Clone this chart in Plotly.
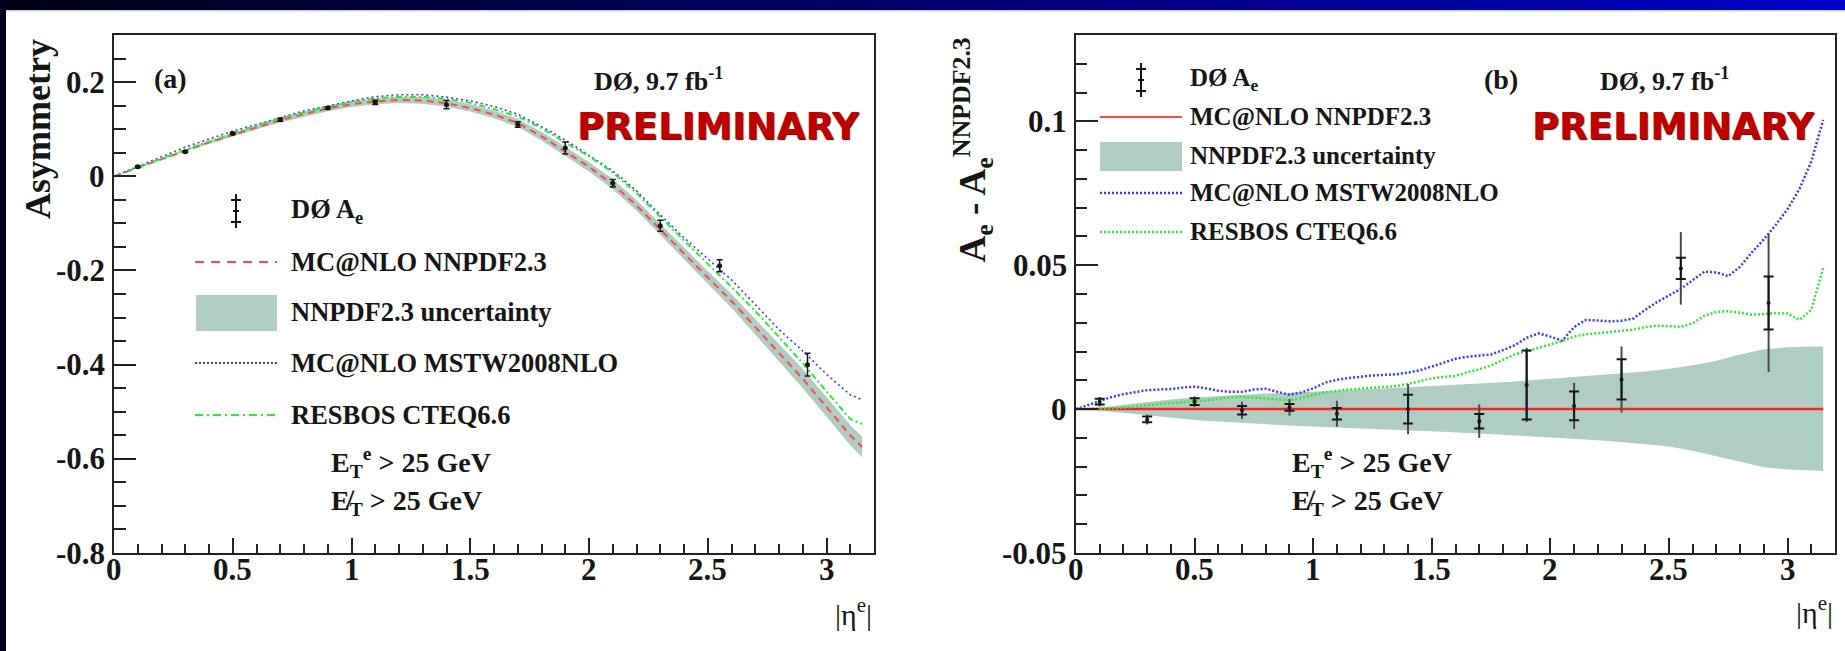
import plotly.graph_objects as go

W, H = 1845, 651

# ---------------- data ----------------
# coarse |eta| grid for the smooth predictions in panel (a) and the PDF band
ETA_GRID = [0.0, 0.1, 0.2, 0.3, 0.4, 0.5, 0.6, 0.7, 0.8, 0.9, 1.0, 1.1, 1.2, 1.3,
            1.4, 1.5, 1.6, 1.7, 1.8, 1.9, 2.0, 2.1, 2.2, 2.3, 2.4, 2.5, 2.6, 2.7,
            2.8, 2.9, 3.0, 3.1, 3.15]
NNPDF_ASYM = [0.0, 0.018, 0.037, 0.055, 0.072, 0.088, 0.104, 0.119, 0.132, 0.144,
              0.153, 0.159, 0.162, 0.161, 0.155, 0.145, 0.131, 0.113, 0.085, 0.052,
              0.020, -0.017, -0.062, -0.113, -0.165, -0.215, -0.265, -0.320, -0.375,
              -0.430, -0.490, -0.550, -0.575]
NNPDF_UNC_UP = [0.0, 0.0005, 0.0015, 0.0025, 0.0033, 0.0040, 0.0045, 0.0050, 0.0054,
                0.0057, 0.0060, 0.0064, 0.0068, 0.0072, 0.0076, 0.0079, 0.0083, 0.0088,
                0.0093, 0.0099, 0.0105, 0.0111, 0.0117, 0.0124, 0.0131, 0.0140, 0.0152,
                0.0168, 0.0190, 0.0208, 0.0215, 0.0218, 0.0218]
NNPDF_UNC_DN = [0.0, -0.0005, -0.0012, -0.0020, -0.0030, -0.0038, -0.0043, -0.0048,
                -0.0053, -0.0057, -0.0060, -0.0063, -0.0066, -0.0070, -0.0074, -0.0077,
                -0.0080, -0.0085, -0.0089, -0.0093, -0.0097, -0.0103, -0.0108, -0.0114,
                -0.0121, -0.0130, -0.0145, -0.0163, -0.0183, -0.0202, -0.0210, -0.0213,
                -0.0215]
MSTW_ASYM = [0.0, 0.021, 0.042, 0.062, 0.079, 0.096, 0.110, 0.125, 0.139, 0.149, 0.160,
             0.169, 0.173, 0.173, 0.168, 0.160, 0.1485, 0.1316, 0.1055, 0.077, 0.045,
             0.0115, -0.031, -0.082, -0.1305, -0.1755, -0.220, -0.2725, -0.3255, -0.371,
             -0.4205, -0.464, -0.4745]
RESBOS_ASYM = [0.0, 0.018, 0.0375, 0.056, 0.074, 0.091, 0.108, 0.123, 0.136, 0.147,
               0.158, 0.165, 0.169, 0.169, 0.164, 0.156, 0.1425, 0.127, 0.102, 0.072,
               0.0425, 0.008, -0.0356, -0.086, -0.1365, -0.186, -0.235, -0.286, -0.3415,
               -0.397, -0.457, -0.5155, -0.526]

# fine |eta| grid for the differences in panel (b)
ETA_FINE = [0.0, 0.05, 0.1, 0.15, 0.2, 0.25, 0.3, 0.35, 0.4, 0.45, 0.5, 0.55, 0.6, 0.65,
            0.7, 0.75, 0.8, 0.85, 0.9, 0.95, 1.0, 1.05, 1.1, 1.15, 1.2, 1.25, 1.3, 1.35,
            1.4, 1.45, 1.5, 1.55, 1.6, 1.65, 1.7, 1.75, 1.8, 1.85, 1.9, 1.95, 2.0, 2.05,
            2.1, 2.15, 2.2, 2.25, 2.3, 2.35, 2.4, 2.45, 2.5, 2.55, 2.6, 2.65, 2.7, 2.75,
            2.8, 2.85, 2.9, 2.95, 3.0, 3.05, 3.1, 3.15]
MSTW_DIFF = [0.0, 0.0014, 0.0030, 0.0042, 0.0052, 0.0060, 0.0066, 0.0068, 0.0070, 0.0075,
             0.0078, 0.0072, 0.0064, 0.0060, 0.0060, 0.0068, 0.0071, 0.0060, 0.0050, 0.0058,
             0.0072, 0.0092, 0.0102, 0.0108, 0.0113, 0.0117, 0.0119, 0.0121, 0.0127, 0.0135,
             0.0148, 0.0162, 0.0175, 0.0182, 0.0186, 0.0190, 0.0205, 0.0222, 0.0248, 0.0263,
             0.0252, 0.0238, 0.0285, 0.0310, 0.0308, 0.0305, 0.0307, 0.0315, 0.0345, 0.0372,
             0.0395, 0.0418, 0.0448, 0.0478, 0.0475, 0.0462, 0.0495, 0.0545, 0.0590, 0.0640,
             0.0695, 0.0765, 0.0860, 0.1005]
RESBOS_DIFF = [0.0, 0.0, 0.0, 0.0002, 0.0005, 0.0010, 0.0014, 0.0018, 0.0021, 0.0024,
               0.0026, 0.0030, 0.0036, 0.0041, 0.0043, 0.0040, 0.0036, 0.0033, 0.0031, 0.0038,
               0.0050, 0.0058, 0.0064, 0.0068, 0.0071, 0.0074, 0.0077, 0.0080, 0.0087, 0.0097,
               0.0107, 0.0112, 0.0115, 0.0128, 0.0138, 0.0152, 0.0172, 0.0190, 0.0201, 0.0212,
               0.0225, 0.0237, 0.0252, 0.0260, 0.0264, 0.0268, 0.0270, 0.0276, 0.0285, 0.0290,
               0.0288, 0.0286, 0.0298, 0.0325, 0.0338, 0.0340, 0.0335, 0.0328, 0.0330, 0.0334,
               0.0332, 0.0310, 0.0345, 0.0490]

# D0 measurement
DATA_ETA = [0.1, 0.3, 0.5, 0.7, 0.9, 1.1, 1.4, 1.7, 1.9, 2.1, 2.3, 2.55, 2.92]
DATA_ASYM = [0.020, 0.052, 0.091, 0.120, 0.145, 0.157, 0.152, 0.110, 0.060, -0.015,
             -0.105, -0.190, -0.400]
DATA_DIFF = [0.0026, -0.0036, 0.0026, -0.0004, 0.0006, -0.0016, 0.0, -0.0042, 0.0084,
             0.0011, 0.0103, 0.0489, 0.0369]
DATA_STAT = [0.0010, 0.0010, 0.0012, 0.0015, 0.0012, 0.0020, 0.0050, 0.0025, 0.0120,
             0.0050, 0.0070, 0.0037, 0.0092]
DATA_TOT = [0.0017, 0.0017, 0.0018, 0.0030, 0.0029, 0.0045, 0.0087, 0.0058, 0.0129,
            0.0080, 0.0115, 0.0126, 0.0240]

X_TICKS = [0, 0.5, 1, 1.5, 2, 2.5, 3]
X_TICKLABELS = ["0", "0.5", "1", "1.5", "2", "2.5", "3"]
YA_TICKS = [-0.8, -0.6, -0.4, -0.2, 0, 0.2]
YA_TICKLABELS = ["-0.8", "-0.6", "-0.4", "-0.2", "0", "0.2"]
YB_TICKS = [-0.05, 0, 0.05, 0.1]
YB_TICKLABELS = ["-0.05", "0", "0.05", "0.1"]

LEGEND_A = ["DØ A<sub>e</sub>", "MC@NLO NNPDF2.3", "NNPDF2.3 uncertainty",
            "MC@NLO MSTW2008NLO", "RESBOS CTEQ6.6"]
LEGEND_B = ["DØ A<sub>e</sub>", "MC@NLO NNPDF2.3", "NNPDF2.3 uncertainty",
            "MC@NLO MSTW2008NLO", "RESBOS CTEQ6.6"]
CUTS = ["E<sub>T</sub><sup>e</sup> > 25 GeV", "E\u0338<sub>T</sub> > 25 GeV"]

# ---------------- style ----------------
BAND = "#b0cdc4"
RED = "#ff4a4a"
BLUE = "#3a3aff"
GREEN = "#30e830"
INK = "#161616"
SERIF = "Liberation Serif"
SANS = "DejaVu Sans"
TICK_SIZE = 31


def px(x):
    return x / W


def py(y):
    return 1 - y / H


fig = go.Figure()

# ----- panel (a) -----
band_hi = [a + u for a, u in zip(NNPDF_ASYM, NNPDF_UNC_UP)]
band_lo = [a + d for a, d in zip(NNPDF_ASYM, NNPDF_UNC_DN)]
fig.add_trace(go.Scatter(x=ETA_GRID + ETA_GRID[::-1], y=band_hi + band_lo[::-1],
                         fill="toself", fillcolor=BAND, line=dict(width=0),
                         mode="lines", hoverinfo="skip", xaxis="x", yaxis="y"))
fig.add_trace(go.Scatter(x=ETA_GRID, y=NNPDF_ASYM, mode="lines",
                         line=dict(color=RED, width=2, dash="7px,5px"),
                         xaxis="x", yaxis="y"))
fig.add_trace(go.Scatter(x=ETA_GRID, y=MSTW_ASYM, mode="lines",
                         line=dict(color=BLUE, width=1.6, dash="2px,3px"),
                         xaxis="x", yaxis="y"))
fig.add_trace(go.Scatter(x=ETA_GRID, y=RESBOS_ASYM, mode="lines",
                         line=dict(color=GREEN, width=2, dash="6px,3px,2px,3px"),
                         xaxis="x", yaxis="y"))
fig.add_trace(go.Scatter(x=DATA_ETA, y=DATA_ASYM, mode="markers",
                         marker=dict(color=INK, size=5),
                         error_y=dict(type="data", array=DATA_TOT, width=3,
                                      thickness=1.5, color=INK),
                         xaxis="x", yaxis="y"))

# ----- panel (b) -----
fig.add_trace(go.Scatter(x=ETA_GRID + ETA_GRID[::-1],
                         y=NNPDF_UNC_UP + NNPDF_UNC_DN[::-1],
                         fill="toself", fillcolor=BAND, line=dict(width=0),
                         mode="lines", hoverinfo="skip", xaxis="x2", yaxis="y2"))
fig.add_trace(go.Scatter(x=[ETA_GRID[0], ETA_GRID[-1]], y=[0, 0], mode="lines",
                         line=dict(color="#ff2020", width=2.5),
                         xaxis="x2", yaxis="y2"))
fig.add_trace(go.Scatter(x=ETA_FINE, y=MSTW_DIFF, mode="lines",
                         line=dict(color=BLUE, width=2.5, dash="2px,2px"),
                         xaxis="x2", yaxis="y2"))
fig.add_trace(go.Scatter(x=ETA_FINE, y=RESBOS_DIFF, mode="lines",
                         line=dict(color=GREEN, width=2.5, dash="2px,2px"),
                         xaxis="x2", yaxis="y2"))
fig.add_trace(go.Scatter(x=DATA_ETA, y=DATA_DIFF, mode="markers",
                         marker=dict(color="rgba(0,0,0,0)", size=2),
                         error_y=dict(type="data", array=DATA_TOT, width=0,
                                      thickness=2, color="#4a4a4a"),
                         xaxis="x2", yaxis="y2"))
fig.add_trace(go.Scatter(x=DATA_ETA, y=DATA_DIFF, mode="markers",
                         marker=dict(color=INK, size=4),
                         error_y=dict(type="data", array=DATA_STAT, width=5,
                                      thickness=2, color=INK),
                         xaxis="x2", yaxis="y2"))

# ----- axes (tick labels are written as serif annotations below) -----
common_axis = dict(showgrid=False, zeroline=False, showline=True, linecolor="#222",
                   linewidth=2, mirror=True, ticks="inside", tickcolor="#222",
                   tickwidth=2, showticklabels=False, fixedrange=True)

xa = dict(common_axis, range=[0, 3.2], tickmode="array", tickvals=X_TICKS, ticklen=15,
          minor=dict(ticks="inside", dtick=0.1, tick0=0, ticklen=9, tickwidth=2,
                     tickcolor="#222"))
fig.update_layout(
    xaxis=dict(xa, domain=[px(114), px(874)], anchor="y"),
    xaxis2=dict(xa, domain=[px(1076), px(1835)], anchor="y2"),
    yaxis=dict(common_axis, range=[-0.8, 0.3], domain=[py(553), py(35)], anchor="x",
               tickmode="array", tickvals=YA_TICKS, ticklen=22,
               minor=dict(ticks="inside", dtick=0.05, tick0=0, ticklen=12, tickwidth=2,
                          tickcolor="#222")),
    yaxis2=dict(common_axis, range=[-0.05, 0.13], domain=[py(553), py(35)], anchor="x2",
                tickmode="array", tickvals=YB_TICKS, ticklen=22,
                minor=dict(ticks="inside", dtick=0.01, tick0=0, ticklen=11, tickwidth=2,
                           tickcolor="#222")),
)

shapes = []
annotations = []

# slide frame: gradient banner on top, dark strip on the left
n_steps = 96
for i in range(n_steps):
    t = i / (n_steps - 1)
    b = int(20 + t * 180)
    shapes.append(dict(type="rect", xref="paper", yref="paper",
                       x0=i / n_steps, x1=min(1.0, (i + 1) / n_steps + 0.001),
                       y0=py(10), y1=1, fillcolor=f"rgb(0,0,{b})",
                       line=dict(width=0), layer="above"))
shapes.append(dict(type="rect", xref="paper", yref="paper", x0=0, x1=1,
                   y0=py(11.5), y1=py(10), fillcolor="#cfd0f0", line=dict(width=0)))
shapes.append(dict(type="rect", xref="paper", yref="paper", x0=0, x1=px(6),
                   y0=0, y1=1, fillcolor="#00001e", line=dict(width=0), layer="above"))


def text(x, y, s, size, anchor="left", family=SERIF, weight="bold", color=INK,
         angle=0, yanchor="middle", shadow=None):
    f = dict(family=family, size=size, color=color, weight=weight)
    if shadow:
        f["shadow"] = shadow
    annotations.append(dict(x=px(x), y=py(y), xref="paper", yref="paper", text=s,
                            showarrow=False, xanchor=anchor, yanchor=yanchor,
                            textangle=angle, font=f))


tick_font = dict(family=SERIF, size=TICK_SIZE, color=INK, weight="bold")

# tick labels placed through the axes
for xr in ("x", "x2"):
    for v, lab in zip(X_TICKS, X_TICKLABELS):
        annotations.append(dict(x=v, y=py(569), xref=xr, yref="paper", text=lab,
                                showarrow=False, xanchor="center", yanchor="middle",
                                font=tick_font))
for v, lab in zip(YA_TICKS, YA_TICKLABELS):
    annotations.append(dict(x=px(107), y=v, xref="paper", yref="y", text=lab,
                            showarrow=False, xanchor="right", yanchor="middle",
                            font=tick_font))
for v, lab in zip(YB_TICKS, YB_TICKLABELS):
    annotations.append(dict(x=px(1069), y=v, xref="paper", yref="y2", text=lab,
                            showarrow=False, xanchor="right", yanchor="middle",
                            font=tick_font))


def legend_block(x0, x1, x_text, rows, labels, size):
    # rows: y for data, red, band, blue, green
    yd = rows[0]
    xm = (x0 + x1) / 2
    # data symbol: error bar with stat ticks
    shapes.append(dict(type="line", xref="paper", yref="paper", x0=px(xm), x1=px(xm),
                       y0=py(yd - 17), y1=py(yd + 17), line=dict(color=INK, width=2)))
    for dy in (-11, 11):
        shapes.append(dict(type="line", xref="paper", yref="paper", x0=px(xm - 5),
                           x1=px(xm + 5), y0=py(yd + dy), y1=py(yd + dy),
                           line=dict(color=INK, width=2)))
    shapes.append(dict(type="line", xref="paper", yref="paper", x0=px(xm - 3),
                       x1=px(xm + 3), y0=py(yd), y1=py(yd),
                       line=dict(color=INK, width=2)))
    for y_row, label in zip(rows, labels):
        text(x_text, y_row, label, size)


# ----- legend of panel (a) -----
legend_block(195, 277, 289, (211, 262, 312, 363, 415), LEGEND_A, 26.5)
shapes.append(dict(type="line", xref="paper", yref="paper", x0=px(195), x1=px(277),
                   y0=py(262), y1=py(262), line=dict(color=RED, width=2, dash="9px,7px")))
shapes.append(dict(type="rect", xref="paper", yref="paper", x0=px(196), x1=px(277),
                   y0=py(331), y1=py(295), fillcolor=BAND, line=dict(width=0)))
shapes.append(dict(type="line", xref="paper", yref="paper", x0=px(195), x1=px(277),
                   y0=py(363), y1=py(363), line=dict(color=BLUE, width=2, dash="2px,2px")))
shapes.append(dict(type="line", xref="paper", yref="paper", x0=px(195), x1=px(277),
                   y0=py(415), y1=py(415),
                   line=dict(color=GREEN, width=2, dash="8px,4px,2px,4px")))
text(329, 463, CUTS[0], 28)
text(329, 502, CUTS[1], 28)

# ----- legend of panel (b) -----
legend_block(1100, 1182, 1188, (80, 117, 156, 193, 232), LEGEND_B, 25)
shapes.append(dict(type="line", xref="paper", yref="paper", x0=px(1100), x1=px(1182),
                   y0=py(117), y1=py(117), line=dict(color=RED, width=2)))
shapes.append(dict(type="rect", xref="paper", yref="paper", x0=px(1100), x1=px(1182),
                   y0=py(171), y1=py(142), fillcolor=BAND, line=dict(width=0)))
shapes.append(dict(type="line", xref="paper", yref="paper", x0=px(1100), x1=px(1182),
                   y0=py(193), y1=py(193), line=dict(color=BLUE, width=2.5, dash="2px,2px")))
shapes.append(dict(type="line", xref="paper", yref="paper", x0=px(1100), x1=px(1182),
                   y0=py(232), y1=py(232), line=dict(color=GREEN, width=2.5, dash="2px,2px")))
text(1290, 463, CUTS[0], 28)
text(1290, 502, CUTS[1], 28)

# ----- panel labels -----
text(152, 78, "(a)", 28)
text(592, 80, "DØ, 9.7 fb<sup>-1</sup>", 26)
text(1482, 80, "(b)", 28)
text(1598, 80, "DØ, 9.7 fb<sup>-1</sup>", 26)
for xl in (575, 1530):
    text(xl, 126, "PRELIMINARY", 37, family=SANS, weight="bold", color="#c00000",
         shadow="1px 1px 1px #500000")

# ----- axis titles -----
text(38, 37, "Asymmetry", 36, anchor="center", angle=-90, yanchor="top")
text(972, 36, "A<sub>e</sub> - A<sub>e</sub><sup>NNPDF2.3</sup>", 37, anchor="center",
     angle=-90, yanchor="top")
text(874, 612, "|η<sup>e</sup>|", 30, anchor="right", weight="normal")
text(1835, 610, "|η<sup>e</sup>|", 30, anchor="right", weight="normal")

fig.update_layout(
    width=W, height=H, margin=dict(l=0, r=0, t=0, b=0),
    font=dict(family=SERIF, color=INK),
    paper_bgcolor="white", plot_bgcolor="white", showlegend=False,
    shapes=shapes, annotations=annotations,
)

# keep the page flush with the figure
fig.write_html("out.html",
               post_script="document.body.style.margin='0';"
                           "document.body.style.overflow='hidden';")
